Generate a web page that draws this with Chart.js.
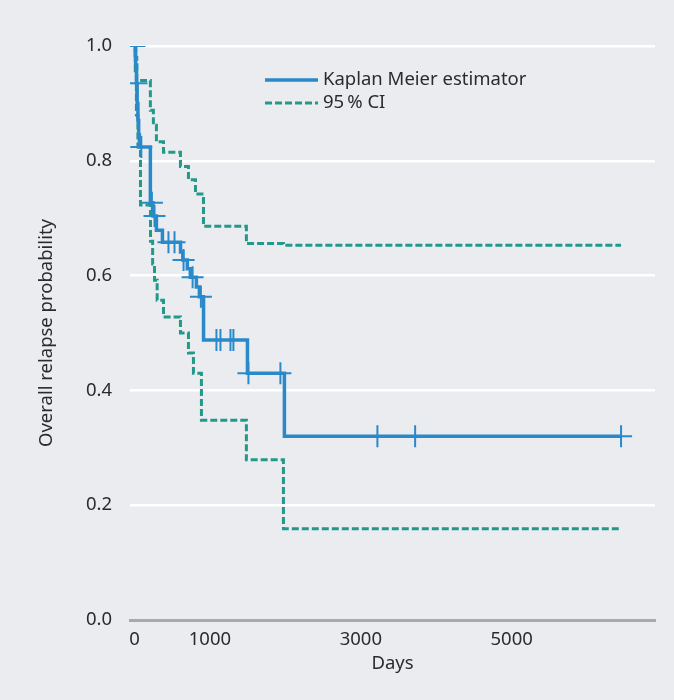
<!DOCTYPE html>
<html>
<head>
<meta charset="utf-8">
<script src="https://cdn.jsdelivr.net/npm/chart.js@4.4.1/dist/chart.umd.min.js"></script>
<style>
  html, body { margin: 0; padding: 0; background: #eaecef; }
  #wrap { width: 674px; height: 700px; }
</style>
</head>
<body>
<div id="wrap"><canvas id="kmChart" width="674" height="700"></canvas></div>
<script>
// Kaplan Meier estimate (day of event, probability after event)
const kmDays = [0, 15, 26, 35, 45, 55, 65, 210, 245, 290, 370, 610, 640, 700, 740, 820, 860, 915, 1497, 1987, 6450];
const kmSurv = [1.0, 0.967, 0.935, 0.90, 0.87, 0.845, 0.824, 0.727, 0.704, 0.679, 0.658, 0.641, 0.627, 0.612, 0.597, 0.58, 0.563, 0.488, 0.43, 0.32, 0.32];

// censored observations (days)
const censorDays = [0, 26, 90, 230, 265, 450, 530, 650, 770, 880, 1086, 1139, 1272, 1311, 1510, 1934, 3220, 3720, 6450];

// 95% confidence interval
const upperDays = [0, 15, 30, 210, 250, 290, 384, 609, 715, 808, 914, 1483, 1974, 6450];
const upperVals = [1.0, 0.98, 0.94, 0.888, 0.862, 0.833, 0.815, 0.79, 0.767, 0.742, 0.686, 0.656, 0.653, 0.653];
const lowerDays = [0, 10, 25, 45, 79, 212, 240, 265, 300, 384, 609, 715, 781, 887, 1483, 1974, 6450];
const lowerVals = [1.0, 0.95, 0.88, 0.824, 0.723, 0.66, 0.62, 0.592, 0.557, 0.528, 0.50, 0.465, 0.43, 0.348, 0.279, 0.159, 0.159];

const xTicks = [0, 1000, 3000, 5000];
const yTicks = [0, 0.2, 0.4, 0.6, 0.8, 1.0];

const kmColor = '#2a89c9';
const ciColor = '#23998a';
const textColor = '#2b2b2b';
const fontFamily = "'Noto Sans', 'Open Sans', sans-serif";
const fontSize = 18.5;

function kmAt(day) {
  let v = kmSurv[0];
  for (let i = 0; i < kmDays.length; i++) {
    if (kmDays[i] <= day) v = kmSurv[i];
  }
  return v;
}

function toPoints(xs, ys) {
  return xs.map((x, i) => ({ x: x, y: ys[i] }));
}

// legend drawn inside the plot, top middle
const insideLegend = {
  id: 'insideLegend',
  afterDraw(chart) {
    const c = chart.ctx;
    const items = [
      { label: 'Kaplan Meier estimator', color: kmColor, dash: [], width: 3.5, y: 80 },
      { label: '95\u2009% CI', color: ciColor, dash: [7, 3], width: 3, y: 103 }
    ];
    c.save();
    c.font = fontSize + 'px ' + fontFamily;
    c.textBaseline = 'middle';
    items.forEach(it => {
      c.beginPath();
      c.setLineDash(it.dash);
      c.strokeStyle = it.color;
      c.lineWidth = it.width;
      c.moveTo(265, it.y);
      c.lineTo(318, it.y);
      c.stroke();
      c.setLineDash([]);
      c.fillStyle = textColor;
      c.fillText(it.label, 323, it.y);
    });
    c.restore();
  }
};

const ctx = document.getElementById('kmChart').getContext('2d');
const kmChart = new Chart(ctx, {
  type: 'line',
  data: {
    datasets: [
      {
        label: 'Kaplan Meier estimator',
        data: toPoints(kmDays, kmSurv),
        borderColor: kmColor,
        borderWidth: 3.5,
        stepped: true,
        pointRadius: 0,
        fill: false
      },
      {
        label: 'censored',
        data: censorDays.map(d => ({ x: d, y: kmAt(d) })),
        showLine: false,
        pointStyle: 'cross',
        pointRadius: 11,
        pointBorderColor: kmColor,
        pointBorderWidth: 2,
        borderColor: kmColor
      },
      {
        label: '95% CI upper',
        data: toPoints(upperDays, upperVals),
        borderColor: ciColor,
        borderWidth: 3,
        borderDash: [7, 3],
        stepped: true,
        pointRadius: 0,
        fill: false
      },
      {
        label: '95% CI lower',
        data: toPoints(lowerDays, lowerVals),
        borderColor: ciColor,
        borderWidth: 3,
        borderDash: [7, 3],
        stepped: true,
        pointRadius: 0,
        fill: false
      }
    ]
  },
  options: {
    responsive: false,
    animation: false,
    layout: { padding: { left: 36, right: 19, top: 46, bottom: 21 } },
    plugins: {
      legend: { display: false },
      tooltip: { enabled: false }
    },
    scales: {
      x: {
        type: 'linear',
        min: -60,
        max: 6900,
        afterBuildTicks: scale => { scale.ticks = xTicks.map(v => ({ value: v })); },
        afterFit: scale => { scale.height = 59; },
        grid: { display: false, drawTicks: false },
        border: { display: true, color: '#a6aaaf', width: 3 },
        ticks: {
          color: textColor,
          font: { family: fontFamily, size: fontSize },
          padding: 9,
          maxRotation: 0,
          callback: v => String(v)
        },
        title: {
          display: true,
          text: 'Days',
          color: textColor,
          font: { family: fontFamily, size: fontSize },
          padding: { top: 0 }
        }
      },
      y: {
        min: 0,
        max: 1,
        afterBuildTicks: scale => { scale.ticks = yTicks.map(v => ({ value: v })); },
        afterFit: scale => { scale.width = 94; },
        grid: { color: '#ffffff', lineWidth: 2.5, drawTicks: false },
        border: { display: false },
        ticks: {
          color: textColor,
          font: { family: fontFamily, size: fontSize },
          padding: 18,
          callback: v => v.toFixed(1)
        },
        title: {
          display: true,
          text: 'Overall relapse probability',
          color: textColor,
          font: { family: fontFamily, size: fontSize },
          padding: { top: 0, bottom: 0 }
        }
      }
    }
  },
  plugins: [insideLegend]
});
</script>
</body>
</html>
